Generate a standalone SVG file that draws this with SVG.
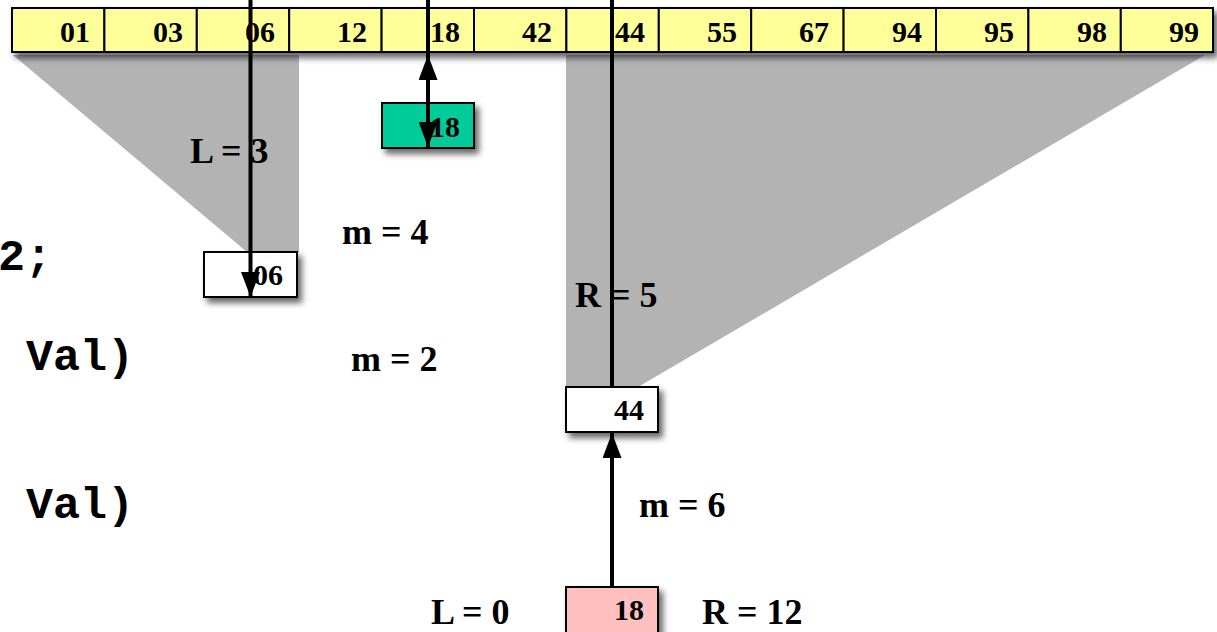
<svg xmlns="http://www.w3.org/2000/svg" width="1217" height="632" viewBox="0 0 1217 632">
<defs>
<filter id="sh" x="-20%" y="-20%" width="140%" height="160%">
<feDropShadow dx="4" dy="5" stdDeviation="3" flood-color="#000" flood-opacity="0.6"/>
</filter>
<marker id="ah" markerUnits="userSpaceOnUse" markerWidth="25" markerHeight="19" refX="25" refY="9.5" orient="auto" viewBox="0 0 25 19">
<path d="M0,0 L25,9.5 L0,19 Z" fill="#000"/>
</marker>
<style>
.cell{fill:#FFFF99;stroke:#000;stroke-width:2}
.num{font-family:"Liberation Serif",serif;font-weight:bold;font-size:30px;text-anchor:end;fill:#000}
.lbl{font-family:"Liberation Serif",serif;font-weight:bold;font-size:36px;fill:#000}
.code{font-family:"Liberation Mono",monospace;font-weight:bold;font-size:45px;fill:#000}
.box{stroke:#000;stroke-width:2}
.conn{stroke:#000;stroke-width:4;fill:none}
</style>
</defs>
<rect width="1217" height="632" fill="#fff"/>
<g id="shading" fill="#B3B3B3">
<polygon points="13,55 299,55 299,252 247,252"/>
<polygon points="566,55 1205,55 638,387 566,387"/>
</g>
<g id="array">
<g filter="url(#sh)">
<rect class="cell" x="12" y="8" width="1201" height="44"/>
</g>
<rect class="cell" x="12" y="8" width="92.4" height="44"/>
<rect class="cell" x="104.4" y="8" width="92.4" height="44"/>
<rect class="cell" x="196.8" y="8" width="92.4" height="44"/>
<rect class="cell" x="289.2" y="8" width="92.4" height="44"/>
<rect class="cell" x="381.6" y="8" width="92.4" height="44"/>
<rect class="cell" x="474" y="8" width="92.4" height="44"/>
<rect class="cell" x="566.4" y="8" width="92.4" height="44"/>
<rect class="cell" x="658.8" y="8" width="92.4" height="44"/>
<rect class="cell" x="751.2" y="8" width="92.4" height="44"/>
<rect class="cell" x="843.6" y="8" width="92.4" height="44"/>
<rect class="cell" x="936" y="8" width="92.4" height="44"/>
<rect class="cell" x="1028.4" y="8" width="92.4" height="44"/>
<rect class="cell" x="1120.8" y="8" width="92.2" height="44"/>
<text class="num" x="90" y="42">01</text>
<text class="num" x="183" y="42">03</text>
<text class="num" x="275" y="42">06</text>
<text class="num" x="367" y="42">12</text>
<text class="num" x="460" y="42">18</text>
<text class="num" x="552" y="42">42</text>
<text class="num" x="645" y="42">44</text>
<text class="num" x="737" y="42">55</text>
<text class="num" x="829" y="42">67</text>
<text class="num" x="922" y="42">94</text>
<text class="num" x="1014" y="42">95</text>
<text class="num" x="1107" y="42">98</text>
<text class="num" x="1199" y="42">99</text>
</g>
<g id="node-06">
<rect class="box" x="204" y="252" width="93" height="45" fill="#fff" filter="url(#sh)"/>
<text class="num" x="283" y="285">06</text>
</g>
<g id="node-18-green">
<rect class="box" x="382" y="103" width="92" height="45" fill="#00CC99" filter="url(#sh)"/>
<text class="num" x="460" y="137">18</text>
</g>
<g id="node-44">
<rect class="box" x="566" y="387" width="92" height="45" fill="#fff" filter="url(#sh)"/>
<text class="num" x="644" y="420">44</text>
</g>
<g id="node-18-pink">
<rect class="box" x="566" y="587" width="92" height="50" fill="#FFC0C0" filter="url(#sh)"/>
<text class="num" x="644" y="620">18</text>
</g>
<g id="labels">
<text class="lbl" x="190" y="163">L = 3</text>
<text class="lbl" x="342" y="244">m = 4</text>
<text class="lbl" x="575" y="307">R = 5</text>
<text class="lbl" x="351" y="371">m = 2</text>
<text class="lbl" x="639" y="517">m = 6</text>
<text class="lbl" x="431" y="624">L = 0</text>
<text class="lbl" x="702" y="624">R = 12</text>
</g>
<g id="code">
<text class="code" x="-2" y="270">2;</text>
<text class="code" x="26" y="370">Val)</text>
<text class="code" x="26" y="518">Val)</text>
</g>
<g id="connectors">
<line class="conn" x1="250.5" y1="0" x2="250.5" y2="297" marker-end="url(#ah)"/>
<line class="conn" x1="428" y1="0" x2="428" y2="147" marker-end="url(#ah)"/>
<line class="conn" x1="428" y1="100" x2="428" y2="55" marker-end="url(#ah)"/>
<line class="conn" x1="612" y1="0" x2="612" y2="387"/>
<line class="conn" x1="612" y1="587" x2="612" y2="433" marker-end="url(#ah)"/>
</g>
</svg>
